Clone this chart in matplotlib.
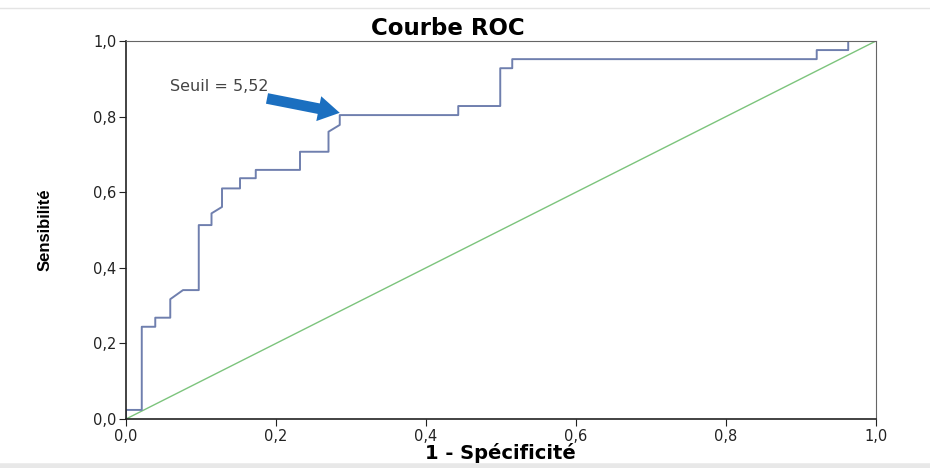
import matplotlib.pyplot as plt

# ROC curve steps (1 - specificity, sensitivity)
fpr = [0.0, 0.0, 0.021, 0.021, 0.039, 0.039, 0.059, 0.059, 0.076, 0.097, 0.097,
       0.114, 0.114, 0.128, 0.128, 0.152, 0.152, 0.173, 0.173, 0.232, 0.232,
       0.270, 0.270, 0.285, 0.285, 0.443, 0.443, 0.499, 0.499, 0.515, 0.515,
       0.921, 0.921, 0.963, 0.963, 1.0]
tpr = [0.0, 0.024, 0.024, 0.244, 0.244, 0.268, 0.268, 0.317, 0.341, 0.341, 0.513,
       0.513, 0.544, 0.561, 0.610, 0.610, 0.637, 0.637, 0.659, 0.659, 0.707,
       0.707, 0.760, 0.778, 0.804, 0.804, 0.828, 0.828, 0.928, 0.928, 0.952,
       0.952, 0.976, 0.976, 1.0, 1.0]

ticks = [0.0, 0.2, 0.4, 0.6, 0.8, 1.0]
tick_labels = ["0,0", "0,2", "0,4", "0,6", "0,8", "1,0"]

seuil_label = "Seuil = 5,52"
seuil_point = (0.285, 0.81)

plt.rcParams['font.family'] = ['DejaVu Sans']

fig = plt.figure(figsize=(9.3, 4.68), dpi=100)
ax = fig.add_axes([0.1355, 0.1047, 0.8064, 0.8077])

ax.plot([0, 1], [0, 1], color='#7cc47c', lw=1.0)
ax.plot(fpr, tpr, color='#6f7fae', lw=1.4)

# threshold label and arrow
ax.text(0.059, 0.879, seuil_label, fontsize=11.5, color='#444444', va='center')
ax.annotate('', xy=seuil_point, xytext=(0.188, 0.848),
            arrowprops=dict(arrowstyle='simple,tail_width=0.55,head_width=1.3,head_length=1.1',
                            color='#1b6fc0', lw=0, mutation_scale=14,
                            shrinkA=0, shrinkB=0))

ax.set_xlim(0, 1)
ax.set_ylim(0, 1)
ax.set_xticks(ticks)
ax.set_xticklabels(tick_labels)
ax.set_yticks(ticks)
ax.set_yticklabels(tick_labels)
ax.tick_params(direction='out', length=5, labelsize=10.5, colors='#222222', pad=2)

for side in ['top', 'right']:
    ax.spines[side].set_color('#666666')
for side in ['left', 'bottom']:
    ax.spines[side].set_color('#222222')
    ax.spines[side].set_linewidth(1.2)

fig.text(448 / 930, 1 - 35 / 468, "Courbe ROC", fontsize=16.5, fontweight='bold',
         ha='center', va='baseline')
fig.text(500 / 930, 1 - 453 / 468, "1 - Spécificité", fontsize=14, fontweight='bold',
         ha='center', va='center')
fig.text(45 / 930, 1 - 230 / 468, "Sensibilité", fontsize=12, fontweight='bold',
         rotation=90, ha='center', va='center',
         family=['Liberation Sans', 'DejaVu Sans'])

# faint screenshot border lines
fig.add_artist(plt.Line2D([0, 1], [0.983, 0.983], color='#e4e4e4', lw=1))
fig.add_artist(plt.Line2D([0, 1], [0.004, 0.004], color='#e8e8e8', lw=4))

fig.savefig("out.png", dpi=100)
